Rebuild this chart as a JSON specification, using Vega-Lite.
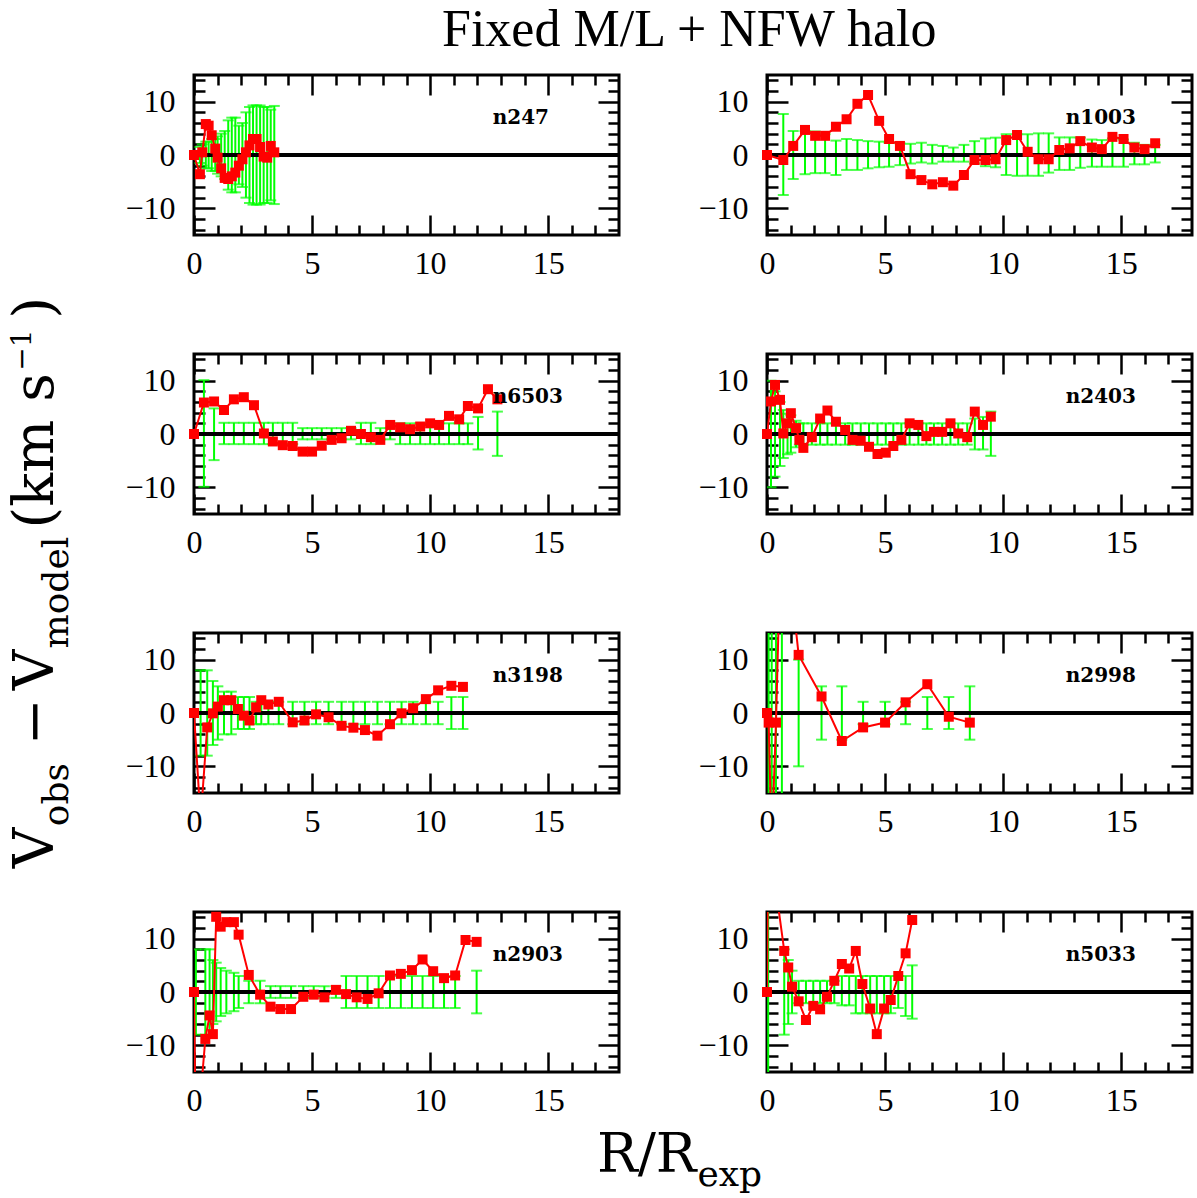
{
"$schema":"https://vega.github.io/schema/vega-lite/v6.json",
"padding":{"top":3,"left":0,"right":0,"bottom":0},
"background":"white",
"title":{"text":"Fixed M/L + NFW halo","font":"Liberation Serif","fontSize":52,"fontWeight":"normal","color":"black","anchor":"start","offset":6,"dx":442},
"config":{"view":{"stroke":"black","strokeWidth":3},"axis":{"domain":false,"grid":false,"tickColor":"black","tickWidth":2.5,"labelFont":"Liberation Serif","labelFontSize":32,"labelColor":"black","labelFlush":false,"labelOverlap":false,"labelBound":false}},
"datasets":{
"n247":[{"r":0,"v":0,"lo":null,"hi":null},{"r":0.25,"v":-3.6,"lo":-1.5,"hi":1.5},{"r":0.35,"v":0.5,"lo":-2,"hi":2},{"r":0.5,"v":5.8,"lo":-2.5,"hi":2.5},{"r":0.62,"v":5.5,"lo":-2.5,"hi":2.5},{"r":0.75,"v":3.7,"lo":-3,"hi":3},{"r":0.9,"v":1.2,"lo":-3,"hi":3},{"r":1.0,"v":-0.5,"lo":-3.5,"hi":3.5},{"r":1.15,"v":-2.5,"lo":-4,"hi":4},{"r":1.3,"v":-4.3,"lo":-4.5,"hi":4.5},{"r":1.45,"v":-4.5,"lo":-6.5,"hi":6.5},{"r":1.6,"v":-4.0,"lo":-7,"hi":7},{"r":1.75,"v":-3.3,"lo":-7,"hi":7},{"r":1.9,"v":-2.0,"lo":-5.5,"hi":5.5},{"r":2.05,"v":-0.8,"lo":-6,"hi":6},{"r":2.2,"v":0.5,"lo":-8,"hi":8},{"r":2.35,"v":1.8,"lo":-9,"hi":9},{"r":2.5,"v":3.0,"lo":-9.3,"hi":9.3},{"r":2.65,"v":3.0,"lo":-9.3,"hi":9.3},{"r":2.8,"v":1.5,"lo":-9.3,"hi":9.3},{"r":2.95,"v":-0.3,"lo":-9,"hi":9},{"r":3.1,"v":-0.5,"lo":-9,"hi":9},{"r":3.25,"v":1.7,"lo":-8.5,"hi":8.5},{"r":3.4,"v":0.5,"lo":-9.2,"hi":9.2}],
"n1003":[{"r":0,"v":0,"lo":null,"hi":null},{"r":0.69,"v":-0.94,"lo":-7.5,"hi":7.7},{"r":1.11,"v":1.7,"lo":-4.5,"hi":4.5},{"r":1.61,"v":4.7,"lo":-3.6,"hi":4.5},{"r":2.04,"v":3.6,"lo":-3.4,"hi":4.4},{"r":2.46,"v":3.6,"lo":-3.4,"hi":3.9},{"r":2.92,"v":5.3,"lo":-3.75,"hi":2.7},{"r":3.37,"v":6.7,"lo":-2.8,"hi":3.0},{"r":3.83,"v":9.6,"lo":-2.8,"hi":2.8},{"r":4.28,"v":11.25,"lo":-2.5,"hi":2.6},{"r":4.75,"v":6.4,"lo":-2.3,"hi":2.5},{"r":5.17,"v":3.0,"lo":-2.2,"hi":2.3},{"r":5.63,"v":1.7,"lo":-1.9,"hi":2.2},{"r":6.08,"v":-3.6,"lo":-1.6,"hi":2.1},{"r":6.54,"v":-4.7,"lo":-1.4,"hi":2.3},{"r":7.0,"v":-5.5,"lo":-1.6,"hi":1.9},{"r":7.45,"v":-5.1,"lo":-1.25,"hi":1.7},{"r":7.89,"v":-5.75,"lo":-1.25,"hi":1.4},{"r":8.34,"v":-3.75,"lo":-1.25,"hi":1.9},{"r":8.79,"v":-0.94,"lo":-1.6,"hi":2.6},{"r":9.25,"v":-0.94,"lo":-2.1,"hi":3.1},{"r":9.68,"v":-0.8,"lo":-2.3,"hi":3.25},{"r":10.13,"v":2.8,"lo":-3.75,"hi":3.9},{"r":10.59,"v":3.75,"lo":-3.9,"hi":3.9},{"r":11.04,"v":0.6,"lo":-3.9,"hi":3.9},{"r":11.5,"v":-0.8,"lo":-3.9,"hi":4.06},{"r":11.93,"v":-0.8,"lo":-3.3,"hi":4.06},{"r":12.38,"v":0.94,"lo":-2.8,"hi":3.3},{"r":12.82,"v":1.25,"lo":-2.8,"hi":3.3},{"r":13.27,"v":2.6,"lo":-2.4,"hi":3.25},{"r":13.76,"v":1.4,"lo":-2.2,"hi":2.9},{"r":14.18,"v":1.1,"lo":-2.2,"hi":2.8},{"r":14.63,"v":3.4,"lo":-2.2,"hi":3.1},{"r":15.1,"v":3.0,"lo":-2.2,"hi":2.9},{"r":15.56,"v":1.4,"lo":-1.75,"hi":2.3},{"r":15.99,"v":1.1,"lo":-1.75,"hi":1.9},{"r":16.44,"v":2.2,"lo":-1.4,"hi":1.9}],
"n6503":[{"r":0,"v":0,"lo":null,"hi":null},{"r":0.42,"v":5.9,"lo":-9.9,"hi":10.1},{"r":0.85,"v":6.1,"lo":-4.9,"hi":4.8},{"r":1.27,"v":4.5,"lo":-1.9,"hi":2.1},{"r":1.69,"v":6.5,"lo":-1.9,"hi":2.1},{"r":2.11,"v":6.9,"lo":-1.9,"hi":2.1},{"r":2.54,"v":5.4,"lo":-1.9,"hi":2.1},{"r":2.96,"v":0.1,"lo":-1.9,"hi":2.1},{"r":3.34,"v":-1.4,"lo":-1.9,"hi":2.1},{"r":3.76,"v":-2.1,"lo":-1.9,"hi":2.1},{"r":4.18,"v":-2.25,"lo":-1.9,"hi":2.1},{"r":4.6,"v":-3.3,"lo":-1.0,"hi":1.1},{"r":5.0,"v":-3.3,"lo":-1.0,"hi":1.1},{"r":5.41,"v":-2.2,"lo":-1.0,"hi":1.1},{"r":5.83,"v":-1.1,"lo":-1.0,"hi":1.1},{"r":6.25,"v":-0.8,"lo":-1.0,"hi":1.1},{"r":6.65,"v":0.6,"lo":-1.0,"hi":1.1},{"r":7.07,"v":0,"lo":-1.9,"hi":2.1},{"r":7.49,"v":-0.6,"lo":-1.9,"hi":2.1},{"r":7.89,"v":-1.1,"lo":-1.0,"hi":1.1},{"r":8.31,"v":1.7,"lo":-1.0,"hi":1.1},{"r":8.73,"v":1.25,"lo":-1.9,"hi":2.0},{"r":9.15,"v":0.9,"lo":-1.9,"hi":2.0},{"r":9.58,"v":1.4,"lo":-1.9,"hi":2.0},{"r":10.0,"v":2.0,"lo":-1.9,"hi":2.0},{"r":10.38,"v":1.7,"lo":-1.9,"hi":2.0},{"r":10.8,"v":3.4,"lo":-1.9,"hi":2.0},{"r":11.23,"v":2.75,"lo":-1.9,"hi":2.0},{"r":11.6,"v":5.25,"lo":-1.9,"hi":2.0},{"r":12.03,"v":4.8,"lo":-2.9,"hi":3.2},{"r":12.45,"v":8.4,"lo":null,"hi":null},{"r":12.85,"v":6.5,"lo":-4.1,"hi":4.2}],
"n2403":[{"r":0,"v":0,"lo":null,"hi":null},{"r":0.17,"v":6.1,"lo":-10,"hi":10},{"r":0.34,"v":9.2,"lo":-8,"hi":8},{"r":0.55,"v":6.4,"lo":-6,"hi":6},{"r":0.69,"v":0.1,"lo":-4.5,"hi":4.5},{"r":0.87,"v":2.0,"lo":-3.8,"hi":3.8},{"r":1.01,"v":3.9,"lo":-3.5,"hi":3.5},{"r":1.23,"v":1.1,"lo":-2.5,"hi":2.5},{"r":1.37,"v":-1.1,"lo":-2,"hi":2},{"r":1.54,"v":-2.6,"lo":-2,"hi":2},{"r":1.9,"v":-0.6,"lo":-2,"hi":2},{"r":2.25,"v":2.9,"lo":-2,"hi":2},{"r":2.56,"v":4.4,"lo":-2,"hi":2},{"r":2.92,"v":2.3,"lo":-2,"hi":2},{"r":3.31,"v":0.75,"lo":-2,"hi":2},{"r":3.62,"v":-1.1,"lo":-2,"hi":2},{"r":3.97,"v":-1.25,"lo":-2,"hi":2},{"r":4.32,"v":-2.4,"lo":-2,"hi":2},{"r":4.68,"v":-3.75,"lo":-2,"hi":2},{"r":5.03,"v":-3.5,"lo":-2,"hi":2},{"r":5.35,"v":-2.25,"lo":-2,"hi":2},{"r":5.69,"v":-1.1,"lo":-2,"hi":2},{"r":6.04,"v":2.0,"lo":-2,"hi":2},{"r":6.41,"v":1.7,"lo":-2,"hi":2},{"r":6.75,"v":-0.4,"lo":-2,"hi":2},{"r":7.07,"v":0.4,"lo":-2,"hi":2},{"r":7.42,"v":0.4,"lo":-2,"hi":2},{"r":7.77,"v":2.0,"lo":-2,"hi":2},{"r":8.1,"v":0.1,"lo":-2,"hi":2},{"r":8.48,"v":-0.6,"lo":-2,"hi":2},{"r":8.8,"v":4.2,"lo":-2.9,"hi":2.9},{"r":9.15,"v":1.7,"lo":-2.9,"hi":3.2},{"r":9.48,"v":3.25,"lo":-4.1,"hi":4.2}],
"n3198":[{"r":0,"v":0,"lo":null,"hi":null},{"r":0.28,"v":-20,"lo":-8,"hi":8},{"r":0.56,"v":-2.7,"lo":-8,"hi":8},{"r":0.8,"v":-0.06,"lo":-6,"hi":6},{"r":1.01,"v":1.2,"lo":-5,"hi":5},{"r":1.27,"v":2.4,"lo":-4,"hi":4},{"r":1.58,"v":2.4,"lo":-4,"hi":4},{"r":1.86,"v":0.75,"lo":-3,"hi":3},{"r":2.11,"v":-0.5,"lo":-3,"hi":3},{"r":2.35,"v":-1.4,"lo":-3,"hi":3},{"r":2.63,"v":1.06,"lo":-2.1,"hi":2.1},{"r":2.85,"v":2.4,"lo":-2.1,"hi":2.1},{"r":3.15,"v":1.6,"lo":-2.1,"hi":2.1},{"r":3.59,"v":2.1,"lo":-2.1,"hi":2.1},{"r":4.18,"v":-1.75,"lo":-2.1,"hi":2.1},{"r":4.68,"v":-1.4,"lo":-2.1,"hi":2.1},{"r":5.17,"v":-0.25,"lo":-2.1,"hi":2.1},{"r":5.7,"v":-0.8,"lo":-2.1,"hi":2.1},{"r":6.25,"v":-2.4,"lo":-2.1,"hi":2.1},{"r":6.75,"v":-2.75,"lo":-2.1,"hi":2.1},{"r":7.24,"v":-3.2,"lo":-2.1,"hi":2.1},{"r":7.77,"v":-4.25,"lo":-2.1,"hi":2.1},{"r":8.3,"v":-2.1,"lo":-2.1,"hi":2.1},{"r":8.79,"v":-0.06,"lo":-2.1,"hi":2.1},{"r":9.28,"v":0.9,"lo":-2.1,"hi":2.1},{"r":9.82,"v":2.6,"lo":-2.1,"hi":2.1},{"r":10.34,"v":4.25,"lo":-2.1,"hi":2.1},{"r":10.9,"v":5.1,"lo":-3,"hi":3},{"r":11.39,"v":4.9,"lo":-3,"hi":3}],
"n2998":[{"r":0,"v":0,"lo":null,"hi":null},{"r":0.07,"v":-1.8,"lo":-30,"hi":30},{"r":0.2,"v":-25,"lo":-30,"hi":30},{"r":0.38,"v":-1.8,"lo":-30,"hi":30},{"r":0.63,"v":40,"lo":-30,"hi":30},{"r":1.34,"v":10.9,"lo":-10,"hi":10},{"r":2.31,"v":3.1,"lo":-5,"hi":5},{"r":3.17,"v":-5.25,"lo":-5,"hi":5},{"r":4.07,"v":-2.7,"lo":-2.1,"hi":2.1},{"r":5.0,"v":-1.8,"lo":-2.1,"hi":2.1},{"r":5.87,"v":2.0,"lo":-2.1,"hi":2.1},{"r":6.79,"v":5.4,"lo":-3,"hi":3},{"r":7.7,"v":-0.7,"lo":-3,"hi":3},{"r":8.59,"v":-1.8,"lo":-5,"hi":5}],
"n2903":[{"r":0,"v":0,"lo":null,"hi":null},{"r":0.08,"v":-30,"lo":-8,"hi":8},{"r":0.48,"v":-8.8,"lo":-8,"hi":8},{"r":0.66,"v":-4.4,"lo":-8,"hi":8},{"r":0.8,"v":-7.9,"lo":-6,"hi":6},{"r":0.94,"v":14.1,"lo":-5.5,"hi":5.5},{"r":1.13,"v":12.25,"lo":-4.5,"hi":4.5},{"r":1.37,"v":13.1,"lo":-4,"hi":4},{"r":1.69,"v":13.1,"lo":-3.6,"hi":3.6},{"r":1.89,"v":10.75,"lo":-3,"hi":3},{"r":2.32,"v":3.2,"lo":-2.1,"hi":2.1},{"r":2.8,"v":-0.5,"lo":-2.1,"hi":2.1},{"r":3.24,"v":-2.75,"lo":-1.1,"hi":1.1},{"r":3.66,"v":-3.2,"lo":-1.1,"hi":1.1},{"r":4.11,"v":-3.2,"lo":-1.1,"hi":1.1},{"r":4.63,"v":-0.9,"lo":-1.1,"hi":1.1},{"r":5.07,"v":-0.5,"lo":-1.1,"hi":1.1},{"r":5.52,"v":-1.0,"lo":-1.1,"hi":1.1},{"r":6.01,"v":0.4,"lo":-1.1,"hi":1.1},{"r":6.44,"v":-0.4,"lo":-3,"hi":3},{"r":6.89,"v":-1.0,"lo":-3,"hi":3},{"r":7.35,"v":-1.3,"lo":-3,"hi":3},{"r":7.82,"v":-0.25,"lo":-3,"hi":3},{"r":8.3,"v":3.1,"lo":-3,"hi":3},{"r":8.76,"v":3.4,"lo":-3,"hi":3},{"r":9.23,"v":4.1,"lo":-3,"hi":3},{"r":9.68,"v":6.1,"lo":-3,"hi":3},{"r":10.13,"v":3.9,"lo":-3,"hi":3},{"r":10.59,"v":2.6,"lo":-3,"hi":3},{"r":11.06,"v":3.1,"lo":-3,"hi":3},{"r":11.5,"v":9.75,"lo":null,"hi":null},{"r":11.97,"v":9.4,"lo":-4,"hi":4}],
"n5033":[{"r":0,"v":0,"lo":null,"hi":null},{"r":0.05,"v":30,"lo":-30,"hi":30},{"r":0.73,"v":7.7,"lo":-8,"hi":8},{"r":0.9,"v":4.6,"lo":-6,"hi":6},{"r":1.06,"v":1.0,"lo":-4,"hi":4},{"r":1.34,"v":-1.75,"lo":-2.1,"hi":2.1},{"r":1.65,"v":-5.25,"lo":-2.1,"hi":2.1},{"r":1.96,"v":-2.6,"lo":-2.1,"hi":2.1},{"r":2.25,"v":-3.25,"lo":-2.1,"hi":2.1},{"r":2.54,"v":-0.9,"lo":-2.1,"hi":2.1},{"r":2.85,"v":2.1,"lo":-2.1,"hi":2.1},{"r":3.17,"v":5.25,"lo":-2.5,"hi":3},{"r":3.48,"v":4.4,"lo":-2.5,"hi":3},{"r":3.76,"v":7.7,"lo":-4,"hi":3},{"r":4.04,"v":1.5,"lo":-4,"hi":3},{"r":4.37,"v":-3.1,"lo":-4,"hi":3},{"r":4.65,"v":-7.9,"lo":-4,"hi":3},{"r":4.96,"v":-3.1,"lo":-4,"hi":3},{"r":5.24,"v":-1.5,"lo":-4,"hi":3},{"r":5.56,"v":3.0,"lo":-3,"hi":3},{"r":5.87,"v":7.25,"lo":-4.5,"hi":3},{"r":6.15,"v":13.5,"lo":-5,"hi":5}]
},
"spacing":43,
"hconcat":[
{"width":80,"height":997,"view":{"stroke":null},
 "layer":[
  {"data":{"values":[{"t":"V"}]},"mark":{"type":"text","font":"DejaVu Serif","fontSize":56,"angle":270,"align":"left","baseline":"alphabetic","color":"black"},"encoding":{"x":{"datum":0.6625,"type":"quantitative","scale":{"domain":[0,1]},"axis":null},"y":{"datum":0.2044,"type":"quantitative","scale":{"domain":[0,1]},"axis":null},"text":{"field":"t"}}},
  {"data":{"values":[{"t":"obs"}]},"mark":{"type":"text","font":"DejaVu Serif","fontSize":36,"angle":270,"align":"left","baseline":"alphabetic","color":"black"},"encoding":{"x":{"datum":0.85,"type":"quantitative","scale":{"domain":[0,1]},"axis":null},"y":{"datum":0.2465,"type":"quantitative","scale":{"domain":[0,1]},"axis":null},"text":{"field":"t"}}},
  {"data":{"values":[{"t":"−"}]},"mark":{"type":"text","font":"DejaVu Serif","fontSize":56,"angle":270,"align":"left","baseline":"alphabetic","color":"black"},"encoding":{"x":{"datum":0.6625,"type":"quantitative","scale":{"domain":[0,1]},"axis":null},"y":{"datum":0.3277,"type":"quantitative","scale":{"domain":[0,1]},"axis":null},"text":{"field":"t"}}},
  {"data":{"values":[{"t":"V"}]},"mark":{"type":"text","font":"DejaVu Serif","fontSize":56,"angle":270,"align":"left","baseline":"alphabetic","color":"black"},"encoding":{"x":{"datum":0.6625,"type":"quantitative","scale":{"domain":[0,1]},"axis":null},"y":{"datum":0.3828,"type":"quantitative","scale":{"domain":[0,1]},"axis":null},"text":{"field":"t"}}},
  {"data":{"values":[{"t":"model"}]},"mark":{"type":"text","font":"DejaVu Serif","fontSize":36,"angle":270,"align":"left","baseline":"alphabetic","color":"black"},"encoding":{"x":{"datum":0.85,"type":"quantitative","scale":{"domain":[0,1]},"axis":null},"y":{"datum":0.4248,"type":"quantitative","scale":{"domain":[0,1]},"axis":null},"text":{"field":"t"}}},
  {"data":{"values":[{"t":"(km s"}]},"mark":{"type":"text","font":"DejaVu Serif","fontSize":56,"angle":270,"align":"left","baseline":"alphabetic","color":"black"},"encoding":{"x":{"datum":0.6625,"type":"quantitative","scale":{"domain":[0,1]},"axis":null},"y":{"datum":0.5451,"type":"quantitative","scale":{"domain":[0,1]},"axis":null},"text":{"field":"t"}}},
  {"data":{"values":[{"t":"−1"}]},"mark":{"type":"text","font":"DejaVu Serif","fontSize":28,"angle":270,"align":"left","baseline":"alphabetic","color":"black"},"encoding":{"x":{"datum":0.39,"type":"quantitative","scale":{"domain":[0,1]},"axis":null},"y":{"datum":0.7034,"type":"quantitative","scale":{"domain":[0,1]},"axis":null},"text":{"field":"t"}}},
  {"data":{"values":[{"t":")"}]},"mark":{"type":"text","font":"DejaVu Serif","fontSize":56,"angle":270,"align":"left","baseline":"alphabetic","color":"black"},"encoding":{"x":{"datum":0.6625,"type":"quantitative","scale":{"domain":[0,1]},"axis":null},"y":{"datum":0.7555,"type":"quantitative","scale":{"domain":[0,1]},"axis":null},"text":{"field":"t"}}}
 ]},
{"spacing":0,
 "vconcat":[
  {"bounds":"flush","columns":2,"spacing":{"row":119,"column":148},
   "concat":[
      {"width":425,"height":160,"data":{"name":"n247"},"resolve":{"axis":{"x":"independent","y":"independent"}},"layer":[
        {"mark":{"type":"rule","color":"#00ff00","strokeWidth":2,"clip":true},"encoding":{"x":{"field":"r","type":"quantitative","scale":{"domain":[0,18],"nice":false,"zero":false},"axis":{"orient":"bottom","values":[0,1,2,3,4,5,6,7,8,9,10,11,12,13,14,15,16,17],"tickSize":{"condition":{"test":"datum.value % 5 === 0","value":-20},"value":-10},"labelExpr":"datum.value % 5 === 0 ? datum.label : ''","labelPadding":33,"title":null}},"y":{"field":"lo","type":"quantitative","scale":{"domain":[-15,15],"nice":false},"axis":{"orient":"left","values":[-14,-12,-10,-8,-6,-4,-2,0,2,4,6,8,10,12,14],"tickSize":{"condition":{"test":"datum.value % 10 === 0","value":-21},"value":-11},"labelExpr":"datum.value % 10 === 0 ? datum.label : ''","labelPadding":40,"title":null}},"y2":{"field":"hi"}}},
        {"mark":{"type":"tick","orient":"horizontal","color":"#00ff00","size":11,"thickness":2,"clip":true},"encoding":{"x":{"field":"r","type":"quantitative","axis":{"orient":"top","values":[0,1,2,3,4,5,6,7,8,9,10,11,12,13,14,15,16,17],"tickSize":{"condition":{"test":"datum.value % 5 === 0","value":-20},"value":-10},"labels":false,"title":null}},"y":{"field":"lo","type":"quantitative","axis":{"orient":"right","values":[-14,-12,-10,-8,-6,-4,-2,0,2,4,6,8,10,12,14],"tickSize":{"condition":{"test":"datum.value % 10 === 0","value":-21},"value":-11},"labels":false,"title":null}}}},
        {"mark":{"type":"tick","orient":"horizontal","color":"#00ff00","size":11,"thickness":2,"clip":true},"encoding":{"x":{"field":"r","type":"quantitative","axis":null},"y":{"field":"hi","type":"quantitative","axis":null}}},
        {"mark":{"type":"rule","color":"black","strokeWidth":2.5},"encoding":{"y":{"datum":0,"type":"quantitative","axis":null}}},
        {"mark":{"type":"line","color":"#ff0000","strokeWidth":2,"clip":true},"encoding":{"x":{"field":"r","type":"quantitative","axis":null},"y":{"field":"v","type":"quantitative","axis":null}}},
        {"transform":[{"filter":"datum.v >= -15 && datum.v <= 15"}],"mark":{"type":"square","color":"#ff0000","size":100,"opacity":1},"encoding":{"x":{"field":"r","type":"quantitative","axis":null},"y":{"field":"v","type":"quantitative","axis":null}}},
        {"data":{"values":[{"name":"n247"}]},"mark":{"type":"text","font":"DejaVu Serif","fontWeight":"bold","fontSize":20,"align":"left","baseline":"alphabetic","color":"black"},"encoding":{"x":{"datum":12.65,"type":"quantitative","axis":null},"y":{"datum":5.9,"type":"quantitative","axis":null},"text":{"field":"name"}}}
      ]},
      {"width":425,"height":160,"data":{"name":"n1003"},"resolve":{"axis":{"x":"independent","y":"independent"}},"layer":[
        {"mark":{"type":"rule","color":"#00ff00","strokeWidth":2,"clip":true},"encoding":{"x":{"field":"r","type":"quantitative","scale":{"domain":[0,18],"nice":false,"zero":false},"axis":{"orient":"bottom","values":[0,1,2,3,4,5,6,7,8,9,10,11,12,13,14,15,16,17],"tickSize":{"condition":{"test":"datum.value % 5 === 0","value":-20},"value":-10},"labelExpr":"datum.value % 5 === 0 ? datum.label : ''","labelPadding":33,"title":null}},"y":{"field":"lo","type":"quantitative","scale":{"domain":[-15,15],"nice":false},"axis":{"orient":"left","values":[-14,-12,-10,-8,-6,-4,-2,0,2,4,6,8,10,12,14],"tickSize":{"condition":{"test":"datum.value % 10 === 0","value":-21},"value":-11},"labelExpr":"datum.value % 10 === 0 ? datum.label : ''","labelPadding":40,"title":null}},"y2":{"field":"hi"}}},
        {"mark":{"type":"tick","orient":"horizontal","color":"#00ff00","size":11,"thickness":2,"clip":true},"encoding":{"x":{"field":"r","type":"quantitative","axis":{"orient":"top","values":[0,1,2,3,4,5,6,7,8,9,10,11,12,13,14,15,16,17],"tickSize":{"condition":{"test":"datum.value % 5 === 0","value":-20},"value":-10},"labels":false,"title":null}},"y":{"field":"lo","type":"quantitative","axis":{"orient":"right","values":[-14,-12,-10,-8,-6,-4,-2,0,2,4,6,8,10,12,14],"tickSize":{"condition":{"test":"datum.value % 10 === 0","value":-21},"value":-11},"labels":false,"title":null}}}},
        {"mark":{"type":"tick","orient":"horizontal","color":"#00ff00","size":11,"thickness":2,"clip":true},"encoding":{"x":{"field":"r","type":"quantitative","axis":null},"y":{"field":"hi","type":"quantitative","axis":null}}},
        {"mark":{"type":"rule","color":"black","strokeWidth":2.5},"encoding":{"y":{"datum":0,"type":"quantitative","axis":null}}},
        {"mark":{"type":"line","color":"#ff0000","strokeWidth":2,"clip":true},"encoding":{"x":{"field":"r","type":"quantitative","axis":null},"y":{"field":"v","type":"quantitative","axis":null}}},
        {"transform":[{"filter":"datum.v >= -15 && datum.v <= 15"}],"mark":{"type":"square","color":"#ff0000","size":100,"opacity":1},"encoding":{"x":{"field":"r","type":"quantitative","axis":null},"y":{"field":"v","type":"quantitative","axis":null}}},
        {"data":{"values":[{"name":"n1003"}]},"mark":{"type":"text","font":"DejaVu Serif","fontWeight":"bold","fontSize":20,"align":"left","baseline":"alphabetic","color":"black"},"encoding":{"x":{"datum":12.65,"type":"quantitative","axis":null},"y":{"datum":5.9,"type":"quantitative","axis":null},"text":{"field":"name"}}}
      ]},
      {"width":425,"height":160,"data":{"name":"n6503"},"resolve":{"axis":{"x":"independent","y":"independent"}},"layer":[
        {"mark":{"type":"rule","color":"#00ff00","strokeWidth":2,"clip":true},"encoding":{"x":{"field":"r","type":"quantitative","scale":{"domain":[0,18],"nice":false,"zero":false},"axis":{"orient":"bottom","values":[0,1,2,3,4,5,6,7,8,9,10,11,12,13,14,15,16,17],"tickSize":{"condition":{"test":"datum.value % 5 === 0","value":-20},"value":-10},"labelExpr":"datum.value % 5 === 0 ? datum.label : ''","labelPadding":33,"title":null}},"y":{"field":"lo","type":"quantitative","scale":{"domain":[-15,15],"nice":false},"axis":{"orient":"left","values":[-14,-12,-10,-8,-6,-4,-2,0,2,4,6,8,10,12,14],"tickSize":{"condition":{"test":"datum.value % 10 === 0","value":-21},"value":-11},"labelExpr":"datum.value % 10 === 0 ? datum.label : ''","labelPadding":40,"title":null}},"y2":{"field":"hi"}}},
        {"mark":{"type":"tick","orient":"horizontal","color":"#00ff00","size":11,"thickness":2,"clip":true},"encoding":{"x":{"field":"r","type":"quantitative","axis":{"orient":"top","values":[0,1,2,3,4,5,6,7,8,9,10,11,12,13,14,15,16,17],"tickSize":{"condition":{"test":"datum.value % 5 === 0","value":-20},"value":-10},"labels":false,"title":null}},"y":{"field":"lo","type":"quantitative","axis":{"orient":"right","values":[-14,-12,-10,-8,-6,-4,-2,0,2,4,6,8,10,12,14],"tickSize":{"condition":{"test":"datum.value % 10 === 0","value":-21},"value":-11},"labels":false,"title":null}}}},
        {"mark":{"type":"tick","orient":"horizontal","color":"#00ff00","size":11,"thickness":2,"clip":true},"encoding":{"x":{"field":"r","type":"quantitative","axis":null},"y":{"field":"hi","type":"quantitative","axis":null}}},
        {"mark":{"type":"rule","color":"black","strokeWidth":2.5},"encoding":{"y":{"datum":0,"type":"quantitative","axis":null}}},
        {"mark":{"type":"line","color":"#ff0000","strokeWidth":2,"clip":true},"encoding":{"x":{"field":"r","type":"quantitative","axis":null},"y":{"field":"v","type":"quantitative","axis":null}}},
        {"transform":[{"filter":"datum.v >= -15 && datum.v <= 15"}],"mark":{"type":"square","color":"#ff0000","size":100,"opacity":1},"encoding":{"x":{"field":"r","type":"quantitative","axis":null},"y":{"field":"v","type":"quantitative","axis":null}}},
        {"data":{"values":[{"name":"n6503"}]},"mark":{"type":"text","font":"DejaVu Serif","fontWeight":"bold","fontSize":20,"align":"left","baseline":"alphabetic","color":"black"},"encoding":{"x":{"datum":12.65,"type":"quantitative","axis":null},"y":{"datum":5.9,"type":"quantitative","axis":null},"text":{"field":"name"}}}
      ]},
      {"width":425,"height":160,"data":{"name":"n2403"},"resolve":{"axis":{"x":"independent","y":"independent"}},"layer":[
        {"mark":{"type":"rule","color":"#00ff00","strokeWidth":2,"clip":true},"encoding":{"x":{"field":"r","type":"quantitative","scale":{"domain":[0,18],"nice":false,"zero":false},"axis":{"orient":"bottom","values":[0,1,2,3,4,5,6,7,8,9,10,11,12,13,14,15,16,17],"tickSize":{"condition":{"test":"datum.value % 5 === 0","value":-20},"value":-10},"labelExpr":"datum.value % 5 === 0 ? datum.label : ''","labelPadding":33,"title":null}},"y":{"field":"lo","type":"quantitative","scale":{"domain":[-15,15],"nice":false},"axis":{"orient":"left","values":[-14,-12,-10,-8,-6,-4,-2,0,2,4,6,8,10,12,14],"tickSize":{"condition":{"test":"datum.value % 10 === 0","value":-21},"value":-11},"labelExpr":"datum.value % 10 === 0 ? datum.label : ''","labelPadding":40,"title":null}},"y2":{"field":"hi"}}},
        {"mark":{"type":"tick","orient":"horizontal","color":"#00ff00","size":11,"thickness":2,"clip":true},"encoding":{"x":{"field":"r","type":"quantitative","axis":{"orient":"top","values":[0,1,2,3,4,5,6,7,8,9,10,11,12,13,14,15,16,17],"tickSize":{"condition":{"test":"datum.value % 5 === 0","value":-20},"value":-10},"labels":false,"title":null}},"y":{"field":"lo","type":"quantitative","axis":{"orient":"right","values":[-14,-12,-10,-8,-6,-4,-2,0,2,4,6,8,10,12,14],"tickSize":{"condition":{"test":"datum.value % 10 === 0","value":-21},"value":-11},"labels":false,"title":null}}}},
        {"mark":{"type":"tick","orient":"horizontal","color":"#00ff00","size":11,"thickness":2,"clip":true},"encoding":{"x":{"field":"r","type":"quantitative","axis":null},"y":{"field":"hi","type":"quantitative","axis":null}}},
        {"mark":{"type":"rule","color":"black","strokeWidth":2.5},"encoding":{"y":{"datum":0,"type":"quantitative","axis":null}}},
        {"mark":{"type":"line","color":"#ff0000","strokeWidth":2,"clip":true},"encoding":{"x":{"field":"r","type":"quantitative","axis":null},"y":{"field":"v","type":"quantitative","axis":null}}},
        {"transform":[{"filter":"datum.v >= -15 && datum.v <= 15"}],"mark":{"type":"square","color":"#ff0000","size":100,"opacity":1},"encoding":{"x":{"field":"r","type":"quantitative","axis":null},"y":{"field":"v","type":"quantitative","axis":null}}},
        {"data":{"values":[{"name":"n2403"}]},"mark":{"type":"text","font":"DejaVu Serif","fontWeight":"bold","fontSize":20,"align":"left","baseline":"alphabetic","color":"black"},"encoding":{"x":{"datum":12.65,"type":"quantitative","axis":null},"y":{"datum":5.9,"type":"quantitative","axis":null},"text":{"field":"name"}}}
      ]},
      {"width":425,"height":160,"data":{"name":"n3198"},"resolve":{"axis":{"x":"independent","y":"independent"}},"layer":[
        {"mark":{"type":"rule","color":"#00ff00","strokeWidth":2,"clip":true},"encoding":{"x":{"field":"r","type":"quantitative","scale":{"domain":[0,18],"nice":false,"zero":false},"axis":{"orient":"bottom","values":[0,1,2,3,4,5,6,7,8,9,10,11,12,13,14,15,16,17],"tickSize":{"condition":{"test":"datum.value % 5 === 0","value":-20},"value":-10},"labelExpr":"datum.value % 5 === 0 ? datum.label : ''","labelPadding":33,"title":null}},"y":{"field":"lo","type":"quantitative","scale":{"domain":[-15,15],"nice":false},"axis":{"orient":"left","values":[-14,-12,-10,-8,-6,-4,-2,0,2,4,6,8,10,12,14],"tickSize":{"condition":{"test":"datum.value % 10 === 0","value":-21},"value":-11},"labelExpr":"datum.value % 10 === 0 ? datum.label : ''","labelPadding":40,"title":null}},"y2":{"field":"hi"}}},
        {"mark":{"type":"tick","orient":"horizontal","color":"#00ff00","size":11,"thickness":2,"clip":true},"encoding":{"x":{"field":"r","type":"quantitative","axis":{"orient":"top","values":[0,1,2,3,4,5,6,7,8,9,10,11,12,13,14,15,16,17],"tickSize":{"condition":{"test":"datum.value % 5 === 0","value":-20},"value":-10},"labels":false,"title":null}},"y":{"field":"lo","type":"quantitative","axis":{"orient":"right","values":[-14,-12,-10,-8,-6,-4,-2,0,2,4,6,8,10,12,14],"tickSize":{"condition":{"test":"datum.value % 10 === 0","value":-21},"value":-11},"labels":false,"title":null}}}},
        {"mark":{"type":"tick","orient":"horizontal","color":"#00ff00","size":11,"thickness":2,"clip":true},"encoding":{"x":{"field":"r","type":"quantitative","axis":null},"y":{"field":"hi","type":"quantitative","axis":null}}},
        {"mark":{"type":"rule","color":"black","strokeWidth":2.5},"encoding":{"y":{"datum":0,"type":"quantitative","axis":null}}},
        {"mark":{"type":"line","color":"#ff0000","strokeWidth":2,"clip":true},"encoding":{"x":{"field":"r","type":"quantitative","axis":null},"y":{"field":"v","type":"quantitative","axis":null}}},
        {"transform":[{"filter":"datum.v >= -15 && datum.v <= 15"}],"mark":{"type":"square","color":"#ff0000","size":100,"opacity":1},"encoding":{"x":{"field":"r","type":"quantitative","axis":null},"y":{"field":"v","type":"quantitative","axis":null}}},
        {"data":{"values":[{"name":"n3198"}]},"mark":{"type":"text","font":"DejaVu Serif","fontWeight":"bold","fontSize":20,"align":"left","baseline":"alphabetic","color":"black"},"encoding":{"x":{"datum":12.65,"type":"quantitative","axis":null},"y":{"datum":5.9,"type":"quantitative","axis":null},"text":{"field":"name"}}}
      ]},
      {"width":425,"height":160,"data":{"name":"n2998"},"resolve":{"axis":{"x":"independent","y":"independent"}},"layer":[
        {"mark":{"type":"rule","color":"#00ff00","strokeWidth":2,"clip":true},"encoding":{"x":{"field":"r","type":"quantitative","scale":{"domain":[0,18],"nice":false,"zero":false},"axis":{"orient":"bottom","values":[0,1,2,3,4,5,6,7,8,9,10,11,12,13,14,15,16,17],"tickSize":{"condition":{"test":"datum.value % 5 === 0","value":-20},"value":-10},"labelExpr":"datum.value % 5 === 0 ? datum.label : ''","labelPadding":33,"title":null}},"y":{"field":"lo","type":"quantitative","scale":{"domain":[-15,15],"nice":false},"axis":{"orient":"left","values":[-14,-12,-10,-8,-6,-4,-2,0,2,4,6,8,10,12,14],"tickSize":{"condition":{"test":"datum.value % 10 === 0","value":-21},"value":-11},"labelExpr":"datum.value % 10 === 0 ? datum.label : ''","labelPadding":40,"title":null}},"y2":{"field":"hi"}}},
        {"mark":{"type":"tick","orient":"horizontal","color":"#00ff00","size":11,"thickness":2,"clip":true},"encoding":{"x":{"field":"r","type":"quantitative","axis":{"orient":"top","values":[0,1,2,3,4,5,6,7,8,9,10,11,12,13,14,15,16,17],"tickSize":{"condition":{"test":"datum.value % 5 === 0","value":-20},"value":-10},"labels":false,"title":null}},"y":{"field":"lo","type":"quantitative","axis":{"orient":"right","values":[-14,-12,-10,-8,-6,-4,-2,0,2,4,6,8,10,12,14],"tickSize":{"condition":{"test":"datum.value % 10 === 0","value":-21},"value":-11},"labels":false,"title":null}}}},
        {"mark":{"type":"tick","orient":"horizontal","color":"#00ff00","size":11,"thickness":2,"clip":true},"encoding":{"x":{"field":"r","type":"quantitative","axis":null},"y":{"field":"hi","type":"quantitative","axis":null}}},
        {"mark":{"type":"rule","color":"black","strokeWidth":2.5},"encoding":{"y":{"datum":0,"type":"quantitative","axis":null}}},
        {"mark":{"type":"line","color":"#ff0000","strokeWidth":2,"clip":true},"encoding":{"x":{"field":"r","type":"quantitative","axis":null},"y":{"field":"v","type":"quantitative","axis":null}}},
        {"transform":[{"filter":"datum.v >= -15 && datum.v <= 15"}],"mark":{"type":"square","color":"#ff0000","size":100,"opacity":1},"encoding":{"x":{"field":"r","type":"quantitative","axis":null},"y":{"field":"v","type":"quantitative","axis":null}}},
        {"data":{"values":[{"name":"n2998"}]},"mark":{"type":"text","font":"DejaVu Serif","fontWeight":"bold","fontSize":20,"align":"left","baseline":"alphabetic","color":"black"},"encoding":{"x":{"datum":12.65,"type":"quantitative","axis":null},"y":{"datum":5.9,"type":"quantitative","axis":null},"text":{"field":"name"}}}
      ]},
      {"width":425,"height":160,"data":{"name":"n2903"},"resolve":{"axis":{"x":"independent","y":"independent"}},"layer":[
        {"mark":{"type":"rule","color":"#00ff00","strokeWidth":2,"clip":true},"encoding":{"x":{"field":"r","type":"quantitative","scale":{"domain":[0,18],"nice":false,"zero":false},"axis":{"orient":"bottom","values":[0,1,2,3,4,5,6,7,8,9,10,11,12,13,14,15,16,17],"tickSize":{"condition":{"test":"datum.value % 5 === 0","value":-20},"value":-10},"labelExpr":"datum.value % 5 === 0 ? datum.label : ''","labelPadding":33,"title":null}},"y":{"field":"lo","type":"quantitative","scale":{"domain":[-15,15],"nice":false},"axis":{"orient":"left","values":[-14,-12,-10,-8,-6,-4,-2,0,2,4,6,8,10,12,14],"tickSize":{"condition":{"test":"datum.value % 10 === 0","value":-21},"value":-11},"labelExpr":"datum.value % 10 === 0 ? datum.label : ''","labelPadding":40,"title":null}},"y2":{"field":"hi"}}},
        {"mark":{"type":"tick","orient":"horizontal","color":"#00ff00","size":11,"thickness":2,"clip":true},"encoding":{"x":{"field":"r","type":"quantitative","axis":{"orient":"top","values":[0,1,2,3,4,5,6,7,8,9,10,11,12,13,14,15,16,17],"tickSize":{"condition":{"test":"datum.value % 5 === 0","value":-20},"value":-10},"labels":false,"title":null}},"y":{"field":"lo","type":"quantitative","axis":{"orient":"right","values":[-14,-12,-10,-8,-6,-4,-2,0,2,4,6,8,10,12,14],"tickSize":{"condition":{"test":"datum.value % 10 === 0","value":-21},"value":-11},"labels":false,"title":null}}}},
        {"mark":{"type":"tick","orient":"horizontal","color":"#00ff00","size":11,"thickness":2,"clip":true},"encoding":{"x":{"field":"r","type":"quantitative","axis":null},"y":{"field":"hi","type":"quantitative","axis":null}}},
        {"mark":{"type":"rule","color":"black","strokeWidth":2.5},"encoding":{"y":{"datum":0,"type":"quantitative","axis":null}}},
        {"mark":{"type":"line","color":"#ff0000","strokeWidth":2,"clip":true},"encoding":{"x":{"field":"r","type":"quantitative","axis":null},"y":{"field":"v","type":"quantitative","axis":null}}},
        {"transform":[{"filter":"datum.v >= -15 && datum.v <= 15"}],"mark":{"type":"square","color":"#ff0000","size":100,"opacity":1},"encoding":{"x":{"field":"r","type":"quantitative","axis":null},"y":{"field":"v","type":"quantitative","axis":null}}},
        {"data":{"values":[{"name":"n2903"}]},"mark":{"type":"text","font":"DejaVu Serif","fontWeight":"bold","fontSize":20,"align":"left","baseline":"alphabetic","color":"black"},"encoding":{"x":{"datum":12.65,"type":"quantitative","axis":null},"y":{"datum":5.9,"type":"quantitative","axis":null},"text":{"field":"name"}}}
      ]},
      {"width":425,"height":160,"data":{"name":"n5033"},"resolve":{"axis":{"x":"independent","y":"independent"}},"layer":[
        {"mark":{"type":"rule","color":"#00ff00","strokeWidth":2,"clip":true},"encoding":{"x":{"field":"r","type":"quantitative","scale":{"domain":[0,18],"nice":false,"zero":false},"axis":{"orient":"bottom","values":[0,1,2,3,4,5,6,7,8,9,10,11,12,13,14,15,16,17],"tickSize":{"condition":{"test":"datum.value % 5 === 0","value":-20},"value":-10},"labelExpr":"datum.value % 5 === 0 ? datum.label : ''","labelPadding":33,"title":null}},"y":{"field":"lo","type":"quantitative","scale":{"domain":[-15,15],"nice":false},"axis":{"orient":"left","values":[-14,-12,-10,-8,-6,-4,-2,0,2,4,6,8,10,12,14],"tickSize":{"condition":{"test":"datum.value % 10 === 0","value":-21},"value":-11},"labelExpr":"datum.value % 10 === 0 ? datum.label : ''","labelPadding":40,"title":null}},"y2":{"field":"hi"}}},
        {"mark":{"type":"tick","orient":"horizontal","color":"#00ff00","size":11,"thickness":2,"clip":true},"encoding":{"x":{"field":"r","type":"quantitative","axis":{"orient":"top","values":[0,1,2,3,4,5,6,7,8,9,10,11,12,13,14,15,16,17],"tickSize":{"condition":{"test":"datum.value % 5 === 0","value":-20},"value":-10},"labels":false,"title":null}},"y":{"field":"lo","type":"quantitative","axis":{"orient":"right","values":[-14,-12,-10,-8,-6,-4,-2,0,2,4,6,8,10,12,14],"tickSize":{"condition":{"test":"datum.value % 10 === 0","value":-21},"value":-11},"labels":false,"title":null}}}},
        {"mark":{"type":"tick","orient":"horizontal","color":"#00ff00","size":11,"thickness":2,"clip":true},"encoding":{"x":{"field":"r","type":"quantitative","axis":null},"y":{"field":"hi","type":"quantitative","axis":null}}},
        {"mark":{"type":"rule","color":"black","strokeWidth":2.5},"encoding":{"y":{"datum":0,"type":"quantitative","axis":null}}},
        {"mark":{"type":"line","color":"#ff0000","strokeWidth":2,"clip":true},"encoding":{"x":{"field":"r","type":"quantitative","axis":null},"y":{"field":"v","type":"quantitative","axis":null}}},
        {"transform":[{"filter":"datum.v >= -15 && datum.v <= 15"}],"mark":{"type":"square","color":"#ff0000","size":100,"opacity":1},"encoding":{"x":{"field":"r","type":"quantitative","axis":null},"y":{"field":"v","type":"quantitative","axis":null}}},
        {"data":{"values":[{"name":"n5033"}]},"mark":{"type":"text","font":"DejaVu Serif","fontWeight":"bold","fontSize":20,"align":"left","baseline":"alphabetic","color":"black"},"encoding":{"x":{"datum":12.65,"type":"quantitative","axis":null},"y":{"datum":5.9,"type":"quantitative","axis":null},"text":{"field":"name"}}}
      ]}
   ]},
  {"width":1069,"height":60,"view":{"stroke":null},
   "layer":[
    {"data":{"values":[{"t":"R/R"}]},"mark":{"type":"text","font":"DejaVu Serif","fontSize":54,"align":"left","baseline":"alphabetic","color":"black"},"encoding":{"x":{"datum":0.377,"type":"quantitative","scale":{"domain":[0,1]},"axis":null},"y":{"datum":0.317,"type":"quantitative","scale":{"domain":[0,1]},"axis":null},"text":{"field":"t"}}},
    {"data":{"values":[{"t":"exp"}]},"mark":{"type":"text","font":"DejaVu Serif","fontSize":36,"align":"left","baseline":"alphabetic","color":"black"},"encoding":{"x":{"datum":0.471,"type":"quantitative","scale":{"domain":[0,1]},"axis":null},"y":{"datum":0.083,"type":"quantitative","scale":{"domain":[0,1]},"axis":null},"text":{"field":"t"}}}
   ]}
 ]}
]
}
